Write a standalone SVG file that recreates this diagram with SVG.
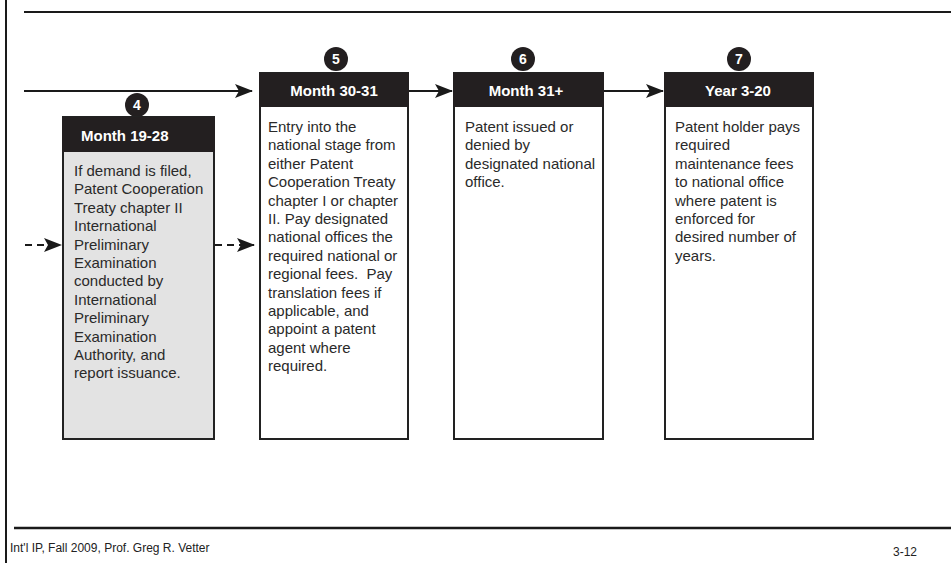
<svg xmlns="http://www.w3.org/2000/svg" width="951" height="563" viewBox="0 0 951 563">
<style>
.frame{stroke:#1a1a1a;fill:none}
.box{stroke:#222;stroke-width:2;fill:#fff}
.box.gray{fill:#e3e3e3}
.hdr{fill:#231f20}
.htxt{font-family:"Liberation Sans",Arial,sans-serif;font-weight:bold;font-size:15px;fill:#fff}
.btxt{font-family:"Liberation Sans",Arial,sans-serif;font-size:15px;fill:#2a2a2a}
.num{font-family:"Liberation Sans",Arial,sans-serif;font-weight:bold;font-size:14px;fill:#fff;text-anchor:middle}
.dot{fill:#231f20}
.conn{stroke:#1a1a1a;stroke-width:2.2;fill:none}
.dash{stroke-dasharray:7 5}
.foot{font-family:"Liberation Sans",Arial,sans-serif;font-size:12px;fill:#222}
</style>
<defs>
<marker id="ah" markerUnits="userSpaceOnUse" viewBox="0 0 18 14" refX="17" refY="7" markerWidth="18" markerHeight="14" orient="auto">
<path d="M0,0 L18,7 L0,14 L4,7 Z" fill="#1a1a1a"/>
</marker>
</defs>
<rect width="951" height="563" fill="#fff"/>
<g id="frame">
<line class="frame" x1="6" y1="0" x2="6" y2="563" stroke-width="2"/>
<line class="frame" x1="24" y1="12" x2="951" y2="12" stroke-width="2"/>
<line class="frame" x1="14" y1="528" x2="951" y2="528" stroke-width="2.5"/>
</g>
<g id="connectors">
<line class="conn" x1="24" y1="91" x2="252" y2="91" marker-end="url(#ah)"/>
<line class="conn" x1="408" y1="91" x2="452" y2="91" marker-end="url(#ah)"/>
<line class="conn" x1="603" y1="91" x2="663" y2="91" marker-end="url(#ah)"/>
<line class="conn dash" x1="25" y1="245" x2="61" y2="245" marker-end="url(#ah)"/>
<line class="conn dash" x1="215" y1="245" x2="254" y2="245" marker-end="url(#ah)"/>
</g>
<g id="step4">
<circle class="dot" cx="137" cy="105" r="12"/>
<text class="num" x="137" y="110">4</text>
<rect class="box gray" x="63" y="117" width="151" height="322"/>
<rect class="hdr" x="62" y="117" width="153" height="35"/>
<text class="htxt" x="81" y="141">Month 19-28</text>
<text class="btxt">
<tspan x="74" y="176">If demand is filed,</tspan>
<tspan x="74" y="194.4">Patent Cooperation</tspan>
<tspan x="74" y="212.8">Treaty chapter II</tspan>
<tspan x="74" y="231.2">International</tspan>
<tspan x="74" y="249.6">Preliminary</tspan>
<tspan x="74" y="268">Examination</tspan>
<tspan x="74" y="286.4">conducted by</tspan>
<tspan x="74" y="304.8">International</tspan>
<tspan x="74" y="323.2">Preliminary</tspan>
<tspan x="74" y="341.6">Examination</tspan>
<tspan x="74" y="360">Authority, and</tspan>
<tspan x="74" y="378.4">report issuance.</tspan>
</text>
</g>
<g id="step5">
<circle class="dot" cx="336" cy="59" r="12"/>
<text class="num" x="336" y="64">5</text>
<rect class="box" x="260" y="73" width="148" height="366"/>
<rect class="hdr" x="259" y="73" width="150" height="34"/>
<text class="htxt" x="334" y="96" text-anchor="middle">Month 30-31</text>
<text class="btxt">
<tspan x="268" y="132">Entry into the</tspan>
<tspan x="268" y="150.4">national stage from</tspan>
<tspan x="268" y="168.8">either Patent</tspan>
<tspan x="268" y="187.2">Cooperation Treaty</tspan>
<tspan x="268" y="205.6">chapter I or chapter</tspan>
<tspan x="268" y="224">II. Pay designated</tspan>
<tspan x="268" y="242.4">national offices the</tspan>
<tspan x="268" y="260.8">required national or</tspan>
<tspan x="268" y="279.2">regional fees.&#160; Pay</tspan>
<tspan x="268" y="297.6">translation fees if</tspan>
<tspan x="268" y="316">applicable, and</tspan>
<tspan x="268" y="334.4">appoint a patent</tspan>
<tspan x="268" y="352.8">agent where</tspan>
<tspan x="268" y="371.2">required.</tspan>
</text>
</g>
<g id="step6">
<circle class="dot" cx="523" cy="59" r="12"/>
<text class="num" x="523" y="64">6</text>
<rect class="box" x="454" y="73" width="149" height="366"/>
<rect class="hdr" x="453" y="73" width="151" height="34"/>
<text class="htxt" x="526" y="96" text-anchor="middle">Month 31+</text>
<text class="btxt">
<tspan x="465" y="132">Patent issued or</tspan>
<tspan x="465" y="150.4">denied by</tspan>
<tspan x="465" y="168.8">designated national</tspan>
<tspan x="465" y="187.2">office.</tspan>
</text>
</g>
<g id="step7">
<circle class="dot" cx="739" cy="59" r="12"/>
<text class="num" x="739" y="64">7</text>
<rect class="box" x="665" y="73" width="148" height="366"/>
<rect class="hdr" x="664" y="73" width="150" height="34"/>
<text class="htxt" x="738" y="96" text-anchor="middle">Year 3-20</text>
<text class="btxt">
<tspan x="675" y="132">Patent holder pays</tspan>
<tspan x="675" y="150.4">required</tspan>
<tspan x="675" y="168.8">maintenance fees</tspan>
<tspan x="675" y="187.2">to national office</tspan>
<tspan x="675" y="205.6">where patent is</tspan>
<tspan x="675" y="224">enforced for</tspan>
<tspan x="675" y="242.4">desired number of</tspan>
<tspan x="675" y="260.8">years.</tspan>
</text>
</g>
<g id="footer">
<text class="foot" x="10" y="552">Int'l IP, Fall 2009, Prof. Greg R. Vetter</text>
<text class="foot" x="893" y="556">3-12</text>
</g>
</svg>
